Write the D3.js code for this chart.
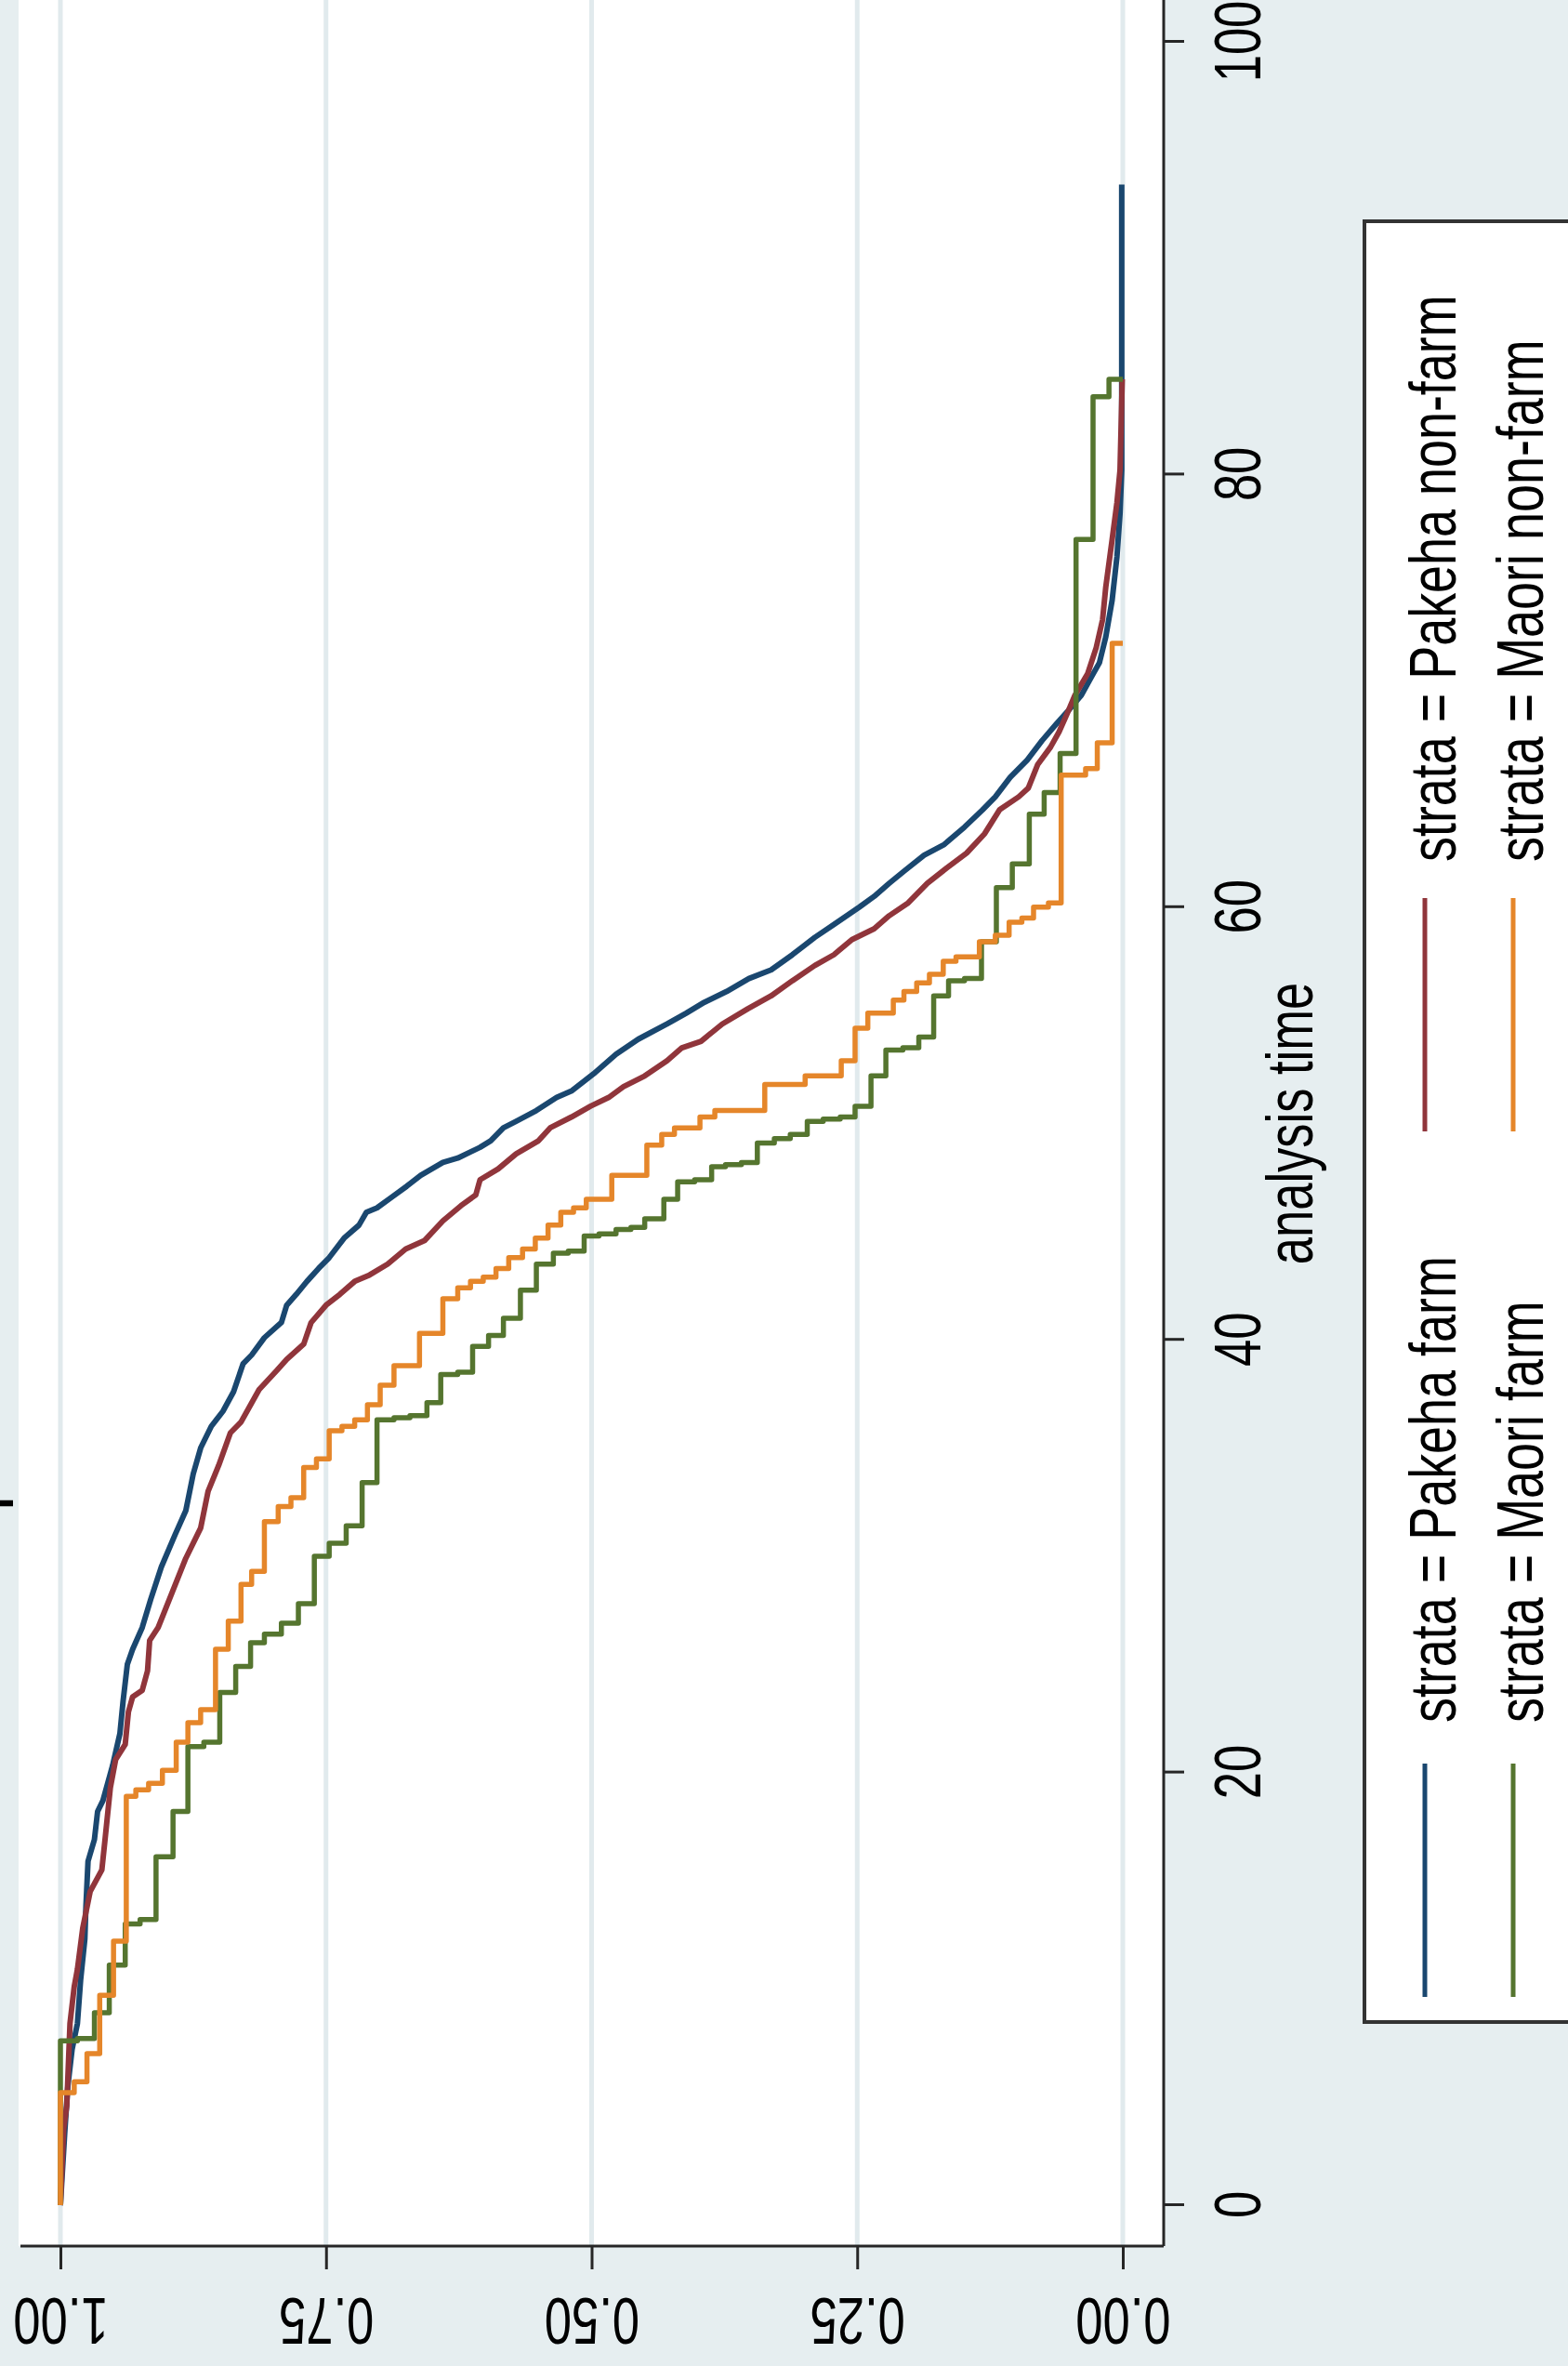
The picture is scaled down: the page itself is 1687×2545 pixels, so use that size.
<!DOCTYPE html>
<html>
<head>
<meta charset="utf-8">
<script src="https://cdn.jsdelivr.net/npm/d3@7"></script>
<style>
  html, body { margin: 0; padding: 0; background: #e6eef0; }
  svg { display: block; }
  text { font-family: "Liberation Sans", Arial, sans-serif; fill: #000; }
</style>
</head>
<body>
<script>
(() => {
  "use strict"

  // Kaplan-Meier estimates: [analysis time, survival] after each drop
  const pakehaFarm = [[0,1],[3.3,0.996],[5.5,0.993],[7.2,0.989],[8.4,0.984],[10.4,0.981],[12.3,0.977],[13.8,0.976],[15.9,0.974],[16.9,0.968],[18.2,0.965],[18.7,0.96],[20.3,0.951],[21.8,0.944],[23.3,0.941],[25.0,0.937],[25.7,0.932],[26.7,0.923],[28.0,0.915],[29.5,0.905],[31.0,0.892],[32.1,0.882],[33.8,0.875],[35.0,0.868],[36.0,0.858],[36.7,0.847],[37.6,0.837],[38.9,0.828],[39.3,0.82],[40.1,0.808],[40.8,0.792],[41.6,0.787],[42.1,0.778],[42.7,0.768],[43.3,0.757],[43.8,0.747],[44.7,0.733],[45.3,0.719],[45.9,0.712],[46.1,0.702],[46.6,0.688],[47.1,0.674],[47.6,0.661],[48.2,0.64],[48.4,0.626],[48.9,0.605],[49.2,0.595],[49.8,0.583],[50.1,0.571],[50.6,0.552],[51.2,0.533],[51.5,0.519],[52.3,0.498],[53.2,0.477],[53.9,0.456],[54.6,0.429],[55.1,0.411],[55.6,0.394],[56.1,0.373],[56.7,0.352],[57.1,0.331],[57.8,0.311],[58.6,0.29],[59.2,0.272],[60.0,0.248],[60.5,0.234],[61.1,0.22],[61.7,0.205],[62.4,0.187],[62.9,0.168],[63.7,0.149],[64.5,0.132],[65.1,0.12],[66.0,0.106],[66.8,0.09],[67.7,0.076],[68.5,0.062],[69.1,0.051],[69.8,0.039],[70.6,0.03],[71.3,0.022],[72.5,0.016],[74.2,0.01],[76.2,0.0055],[78.2,0.0026],[80.2,0.001],[93.4,0.001]]
  const pakehaNonFarm = [[0,1],[3.5,0.997],[4.6,0.994],[8.4,0.991],[10.1,0.987],[10.9,0.984],[12.8,0.979],[14.5,0.972],[15.5,0.961],[16.9,0.958],[19.3,0.953],[20.6,0.948],[21.3,0.939],[22.8,0.936],[23.5,0.932],[23.8,0.923],[24.7,0.918],[26.1,0.916],[26.7,0.908],[28.3,0.895],[29.9,0.882],[31.3,0.868],[33.0,0.861],[34.2,0.851],[35.7,0.84],[36.2,0.83],[37.7,0.813],[38.6,0.796],[39.1,0.787],[39.8,0.771],[40.8,0.764],[41.6,0.75],[42.1,0.737],[42.7,0.723],[43.0,0.709],[43.5,0.692],[44.2,0.675],[44.6,0.657],[45.5,0.64],[46.2,0.623],[46.7,0.609],[47.4,0.605],[47.9,0.588],[48.6,0.571],[49.2,0.55],[49.8,0.539],[50.3,0.519],[50.8,0.501],[51.2,0.484],[51.7,0.47],[52.2,0.45],[52.9,0.429],[53.5,0.415],[53.8,0.397],[54.6,0.377],[55.3,0.353],[55.9,0.331],[56.6,0.311],[57.3,0.29],[57.8,0.272],[58.5,0.255],[59.0,0.234],[59.6,0.22],[60.2,0.202],[61.1,0.184],[61.8,0.166],[62.5,0.147],[63.4,0.13],[64.5,0.116],[65.1,0.098],[65.5,0.089],[66.6,0.08],[67.4,0.068],[68.1,0.06],[69.1,0.051],[69.8,0.045],[70.8,0.033],[72.0,0.025],[73.3,0.019],[74.8,0.016],[77.0,0.01],[78.7,0.0055],[80.2,0.0026],[84.4,0.0005]]
  const maoriFarm = [[0,1],[7.6,0.984],[7.7,0.968],[8.9,0.954],[11.1,0.939],[13.0,0.925],[13.2,0.91],[16.1,0.894],[18.2,0.88],[21.2,0.865],[21.4,0.85],[23.7,0.835],[24.9,0.821],[26.0,0.808],[26.4,0.792],[26.9,0.776],[27.8,0.761],[30.0,0.747],[30.6,0.731],[31.4,0.716],[33.4,0.702],[36.3,0.686],[36.4,0.671],[36.5,0.655],[37.1,0.642],[38.4,0.626],[38.5,0.612],[39.7,0.597],[40.2,0.583],[41.0,0.567],[42.3,0.552],[43.5,0.536],[44.0,0.522],[44.1,0.507],[44.8,0.493],[44.9,0.477],[45.1,0.463],[45.2,0.45],[45.6,0.432],[46.5,0.419],[47.3,0.403],[47.4,0.387],[48.0,0.374],[48.1,0.359],[48.2,0.344],[49.1,0.328],[49.3,0.313],[49.5,0.297],[50.1,0.282],[50.2,0.266],[50.3,0.252],[50.8,0.237],[52.2,0.223],[53.4,0.207],[53.5,0.192],[54.0,0.178],[55.9,0.164],[56.6,0.149],[56.7,0.133],[58.4,0.119],[60.9,0.104],[62.0,0.088],[64.3,0.074],[65.3,0.059],[67.1,0.044],[77.0,0.028],[83.6,0.013],[84.4,0]]
  const maoriNonFarm = [[0,1],[5.2,0.987],[5.7,0.975],[7.0,0.963],[9.7,0.95],[12.2,0.938],[18.9,0.929],[19.2,0.917],[19.5,0.904],[20.1,0.891],[21.4,0.88],[22.3,0.868],[22.9,0.854],[25.7,0.842],[27.0,0.83],[28.7,0.82],[29.3,0.808],[31.6,0.795],[32.3,0.783],[32.7,0.771],[34.1,0.759],[34.5,0.747],[35.8,0.735],[36.0,0.723],[36.3,0.711],[37.0,0.699],[37.9,0.686],[38.8,0.662],[40.3,0.64],[41.9,0.626],[42.4,0.614],[42.7,0.602],[42.9,0.59],[43.3,0.578],[43.8,0.565],[44.2,0.553],[44.7,0.541],[45.3,0.529],[45.9,0.517],[46.1,0.505],[46.5,0.481],[47.6,0.448],[49.0,0.434],[49.5,0.422],[49.8,0.398],[50.3,0.384],[50.6,0.337],[51.8,0.299],[52.2,0.265],[52.9,0.252],[54.4,0.24],[55.1,0.216],[55.7,0.206],[56.1,0.194],[56.5,0.182],[56.9,0.169],[57.5,0.157],[57.7,0.135],[58.4,0.12],[58.7,0.107],[59.3,0.095],[59.5,0.084],[60.0,0.07],[60.2,0.058],[66.1,0.035],[66.4,0.024],[67.6,0.01],[72.2,0]]

  const timeTicks = [0, 20, 40, 60, 80, 100]
  const survTicks = [0, 0.25, 0.5, 0.75, 1]
  const strataLabels = ['strata = Pakeha farm', 'strata = Pakeha non-farm', 'strata = Maori farm', 'strata = Maori non-farm']
  const strataColors = ['#1a476f', '#90353b', '#55752f', '#e5862a']
  const titleText = 'Kaplan-Meier survival estimates'
  const xTitle = 'analysis time'

  // Constants
  const W = 1687, H = 2545
  const bg = '#e6eef0'
  const ink = '#262626'
  const squeeze = 0.75 //the fonts in the picture are narrow
  const plot = { left: 129, right: 2545, top: 20, bottom: 1252 }

  const svg = d3.select('body').append('svg')
    .attr('width', W)
    .attr('height', H)
  svg.append('rect')
    .attr('width', W)
    .attr('height', H)
    .attr('fill', bg)

  // The whole graph is drawn upright, then turned a quarter left
  const g = svg.append('g')
    .attr('transform', `translate(0,${H}) rotate(-90)`)

  const x = d3.scaleLinear().domain([0, 100]).range([173, 2500])
  const y = d3.scaleLinear().domain([0, 1]).range([1208, 65])

  /****** PLOT REGION ******/
  g.append('rect')
    .attr('x', plot.left)
    .attr('y', plot.top)
    .attr('width', plot.right - plot.left)
    .attr('height', plot.bottom - plot.top)
    .attr('fill', '#fff')

  g.append('g').selectAll('line')
    .data(survTicks)
    .enter()
    .append('line')
      .attr('x1', plot.left)
      .attr('x2', plot.right)
      .attr('y1', d => y(d))
      .attr('y2', d => y(d))
      .attr('stroke', '#e1eaed')
      .attr('stroke-width', 5)

  /****** CURVES ******/
  const smooth = d3.line().x(d => x(d[0])).y(d => y(d[1]))
  const stepped = d3.line().x(d => x(d[0])).y(d => y(d[1])).curve(d3.curveStepAfter)
  const series = [
    { data: pakehaFarm, line: smooth, width: 6 },
    { data: pakehaNonFarm, line: smooth, width: 6 },
    { data: maoriFarm, line: stepped, width: 5.5 },
    { data: maoriNonFarm, line: stepped, width: 5.5 }
  ]
  g.append('g').selectAll('path')
    .data(series)
    .enter()
    .append('path')
      .attr('d', d => d.line(d.data))
      .attr('fill', 'none')
      .attr('stroke', (d, i) => strataColors[i])
      .attr('stroke-width', d => d.width)
      .attr('stroke-linejoin', 'round')

  /****** AXES ******/
  g.append('line') //survival axis
    .attr('x1', plot.left).attr('x2', plot.left)
    .attr('y1', 22).attr('y2', plot.bottom)
    .attr('stroke', ink).attr('stroke-width', 3)
  g.append('line') //time axis
    .attr('x1', plot.left).attr('x2', plot.right)
    .attr('y1', plot.bottom).attr('y2', plot.bottom)
    .attr('stroke', ink).attr('stroke-width', 3)

  const y_axis = g.append('g')
    .attr('transform', `translate(${plot.left},0)`)
    .call(d3.axisLeft(y).tickValues(survTicks).tickSize(25).tickSizeOuter(0).tickFormat(d3.format('.2f')))
  const x_axis = g.append('g')
    .attr('transform', `translate(0,${plot.bottom})`)
    .call(d3.axisBottom(x).tickValues(timeTicks).tickSize(22).tickSizeOuter(0).tickFormat(d3.format('d')))

  for (let axis of [y_axis, x_axis]) {
    axis.select('.domain').remove()
    axis.selectAll('.tick line').attr('stroke', ink).attr('stroke-width', 3)
    axis.selectAll('.tick text')
      .attr('x', null).attr('y', null).attr('dy', null)
      .attr('fill', '#000')
      .style('font-size', '70px')
      .attr('text-anchor', 'middle')
  }
  // survival labels stand on end (Stata default), so they come out upside down
  y_axis.selectAll('.tick text')
    .attr('transform', `translate(-56,0) rotate(-90) scale(${squeeze},1)`)
  x_axis.selectAll('.tick text')
    .attr('transform', `translate(0,104) scale(${squeeze},1)`)

  g.append('text')
    .attr('transform', `translate(${x(50)},1412) scale(${squeeze},1)`)
    .attr('text-anchor', 'middle')
    .style('font-size', '70px')
    .text(xTitle)

  // title sits just past the edge, only its descenders peek in
  g.append('text')
    .attr('transform', `translate(832,-6) scale(${squeeze},1)`)
    .style('font-size', '96px')
    .attr('fill', '#111')
    .text(titleText)

  /****** LEGEND ******/
  const legend = g.append('g')
  legend.append('rect')
    .attr('x', 370)
    .attr('y', 1468)
    .attr('width', 2307 - 370)
    .attr('height', 400)
    .attr('fill', '#fff')
    .attr('stroke', '#333')
    .attr('stroke-width', 4)

  const colKey = [397, 1328], colText = [692, 1618]
  const rowKey = [1533, 1628], rowText = [1566, 1660]
  const items = legend.selectAll('g.item')
    .data(strataLabels)
    .enter()
    .append('g')
      .attr('class', 'item')
  items.append('line')
    .attr('x1', (d, i) => colKey[i % 2])
    .attr('x2', (d, i) => colKey[i % 2] + 251)
    .attr('y1', (d, i) => rowKey[Math.floor(i / 2)])
    .attr('y2', (d, i) => rowKey[Math.floor(i / 2)])
    .attr('stroke', (d, i) => strataColors[i])
    .attr('stroke-width', 5)
  items.append('text')
    .attr('transform', (d, i) => `translate(${colText[i % 2]},${rowText[Math.floor(i / 2)]}) scale(0.77,1)`)
    .style('font-size', '70px')
    .text(d => d)
})()
</script>
</body>
</html>
